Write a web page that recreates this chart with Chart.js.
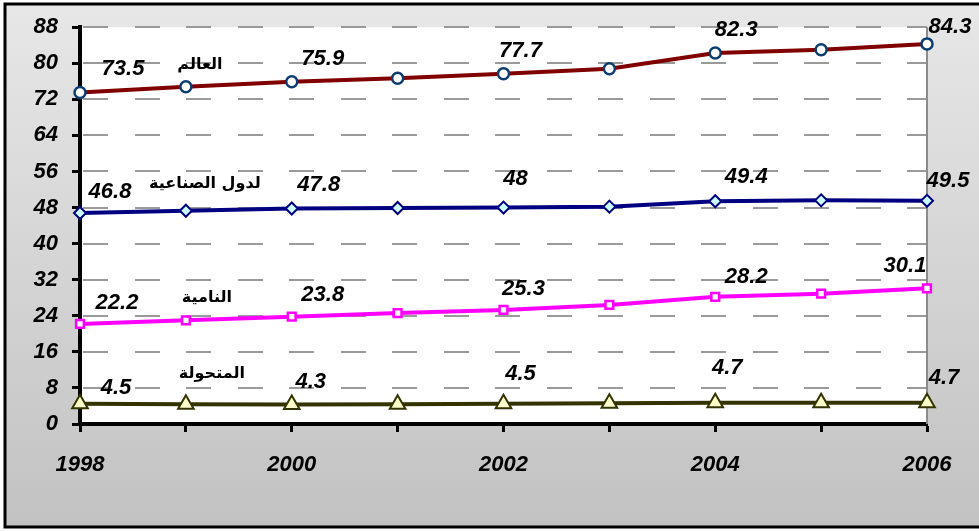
<!DOCTYPE html>
<html>
<head>
<meta charset="utf-8">
<script src="https://cdn.jsdelivr.net/npm/chart.js@4"></script>
<style>
  body { margin: 0; background: #fff; }
</style>
</head>
<body>
<canvas id="myChart" width="979" height="531"></canvas>
<script>
// data
var years = ['1998', '1999', '2000', '2001', '2002', '2003', '2004', '2005', '2006'];
var world = [73.5, 74.8, 75.9, 76.7, 77.7, 78.8, 82.3, 83.0, 84.3];
var industrial = [46.8, 47.3, 47.8, 47.9, 48, 48.2, 49.4, 49.6, 49.5];
var developing = [22.2, 23.0, 23.8, 24.6, 25.3, 26.4, 28.2, 28.9, 30.1];
var transition = [4.5, 4.4, 4.3, 4.4, 4.5, 4.6, 4.7, 4.7, 4.7];
var seriesNames = ['العالم', 'لدول الصناعية', 'النامية', 'المتحولة'];
var labelIdx = [0, 2, 4, 6, 8];

// where the value labels sit relative to their point (per series, per labelled index)
var valueOffsets = [
    [[43, -24], [31, -23], [17, -23], [21, -23], [23, -17]],
    [[30, -21], [27, -24], [12, -29], [31, -24], [21, -20]],
    [[37, -21], [31, -22], [20, -21], [31, -20], [-22, -22]],
    [[36, -16], [19, -23], [17, -30], [12, -35], [17, -25]]
];
var nameOffsets = [[14, -22], [19, -27], [21, -22], [26, -30]];

var numFont = { family: '"Liberation Sans", Arial, sans-serif', size: 22, style: 'italic', weight: 'bold' };
var labelFont = 'italic bold 22px "Liberation Sans", Arial, sans-serif';

var bgPlugin = {
    id: 'bg',
    beforeDraw: function(chart) {
        var ctx = chart.ctx, a = chart.chartArea;
        ctx.save();
        ctx.fillStyle = '#ffffff';
        ctx.fillRect(0, 0, chart.width, chart.height);
        var g = ctx.createLinearGradient(0, 4, 0, 527);
        g.addColorStop(0, '#e7e7e7');
        g.addColorStop(1, '#c2c2c2');
        ctx.fillStyle = g;
        ctx.fillRect(5, 4, chart.width, 523);
        ctx.strokeStyle = '#000';
        ctx.lineWidth = 3;
        ctx.strokeRect(5, 4, chart.width + 10, 523);
        ctx.fillStyle = '#ffffff';
        ctx.fillRect(a.left, a.top, a.right - a.left, a.bottom - a.top);
        ctx.restore();
    },
    beforeDatasetsDraw: function(chart) {
        // dashed horizontal grid, one line per y tick, drawn as short segments
        var ctx = chart.ctx, a = chart.chartArea, y = chart.scales.y;
        ctx.save();
        ctx.fillStyle = '#9a9a9a';
        y.ticks.forEach(function(t) {
            if (t.value === 0) return;
            var py = Math.round(y.getPixelForValue(t.value)) - 1;
            for (var x = a.left + 3; x < a.right; x += 51.5) {
                ctx.fillRect(Math.round(x), py, Math.min(25, a.right - x), 2);
            }
        });
        ctx.fillStyle = '#8c8c8c';
        ctx.fillRect(a.right - 1, a.top, 2, a.bottom - a.top);
        ctx.restore();
    }
};

var textPlugin = {
    id: 'texts',
    afterDatasetsDraw: function(chart) {
        var ctx = chart.ctx;
        ctx.save();
        ctx.textAlign = 'center';
        ctx.textBaseline = 'middle';
        ctx.fillStyle = '#000';
        chart.data.datasets.forEach(function(ds, d) {
            var meta = chart.getDatasetMeta(d);
            ctx.font = labelFont;
            labelIdx.forEach(function(i, k) {
                var p = meta.data[i];
                var off = valueOffsets[d][k];
                ctx.fillText(String(ds.data[i]), p.x + off[0], p.y + off[1]);
            });
            var p1 = meta.data[1];
            ctx.font = 'bold 16px "DejaVu Sans", sans-serif';
            ctx.fillText(seriesNames[d], p1.x + nameOffsets[d][0], p1.y + nameOffsets[d][1]);
        });
        ctx.restore();
    }
};

var ctx = document.getElementById('myChart').getContext('2d');
var myChart = new Chart(ctx, {
    type: 'line',
    data: {
        labels: years,
        datasets: [
            {
                label: seriesNames[0],
                data: world,
                borderColor: '#800000',
                borderWidth: 4,
                pointStyle: 'circle',
                pointRadius: 5.5,
                pointBorderWidth: 2.5,
                pointBorderColor: '#0b3d73',
                pointBackgroundColor: '#ffffff'
            },
            {
                label: seriesNames[1],
                data: industrial,
                borderColor: '#000080',
                borderWidth: 4,
                pointStyle: 'rectRot',
                pointRadius: 6,
                pointBorderWidth: 2,
                pointBorderColor: '#000080',
                pointBackgroundColor: '#ccffff'
            },
            {
                label: seriesNames[2],
                data: developing,
                borderColor: '#ff00ff',
                borderWidth: 4,
                pointStyle: 'rect',
                pointRadius: 5.5,
                pointBorderWidth: 2.5,
                pointBorderColor: '#ff00ff',
                pointBackgroundColor: '#ffffff'
            },
            {
                label: seriesNames[3],
                data: transition,
                borderColor: '#333300',
                borderWidth: 4,
                pointStyle: 'triangle',
                pointRadius: 9,
                pointBorderWidth: 2,
                pointBorderColor: '#333300',
                pointBackgroundColor: '#ffffcc'
            }
        ]
    },
    options: {
        responsive: false,
        animation: false,
        devicePixelRatio: 1,
        layout: { padding: { top: 24, right: 52, left: 0, bottom: 0 } },
        plugins: {
            legend: { display: false },
            tooltip: { enabled: false }
        },
        scales: {
            x: {
                offset: false,
                afterFit: function(s) { s.height = 107; },
                grid: {
                    drawOnChartArea: false,
                    drawTicks: true,
                    tickLength: 8,
                    tickColor: '#000',
                    tickWidth: 3
                },
                border: { color: '#000', width: 4 },
                ticks: {
                    autoSkip: false,
                    maxRotation: 0,
                    padding: 20,
                    color: '#000',
                    font: numFont,
                    callback: function(v, i) { return i % 2 === 0 ? years[i] : ''; }
                }
            },
            y: {
                min: 0,
                max: 88,
                afterFit: function(s) { s.width = 80; },
                grid: {
                    drawOnChartArea: false,
                    drawTicks: true,
                    tickLength: 8,
                    tickColor: '#000',
                    tickWidth: 3
                },
                border: { color: '#000', width: 4 },
                ticks: {
                    stepSize: 8,
                    padding: 14,
                    color: '#000',
                    font: numFont
                }
            }
        }
    },
    plugins: [bgPlugin, textPlugin]
});
</script>
</body>
</html>
